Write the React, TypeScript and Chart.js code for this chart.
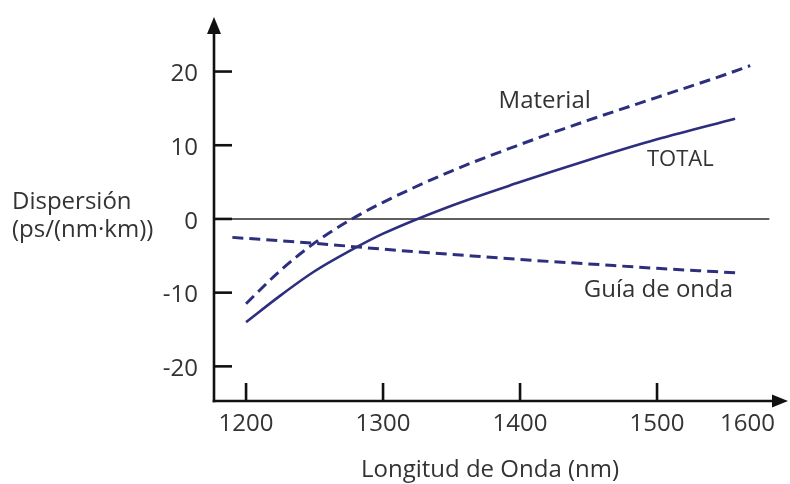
import React, { useEffect, useRef } from "react";
import { Chart, registerables } from "chart.js";

Chart.register(...registerables);

// Wavelength (nm) and dispersion (ps/(nm·km)) values
const materialX = [1200, 1225, 1250, 1275, 1300, 1350, 1400, 1450, 1500, 1550, 1568];
const materialY = [-11.5, -7.0, -3.25, -0.25, 2.25, 6.5, 10.1, 13.4, 16.5, 19.6, 20.8];

const totalX = [1200, 1225, 1250, 1275, 1300, 1350, 1400, 1450, 1500, 1557];
const totalY = [-14.0, -10.4, -7.1, -4.4, -2.0, 1.8, 5.0, 8.0, 10.8, 13.6];

const guiaX = [1190, 1250, 1300, 1350, 1400, 1450, 1500, 1557];
const guiaY = [-2.5, -3.3, -4.1, -4.8, -5.5, -6.1, -6.7, -7.3];

const xTickValues = [1200, 1300, 1400, 1500];
const xTickLabels = ["1200", "1300", "1400", "1500"];
const xExtraLabel = { value: 1566, text: "1600" };
const yTickValues = [20, 10, 0, -10, -20];
const yTickLabels = ["20", "10", "0", "-10", "-20"];

const seriesNames = ["Material", "TOTAL", "Guía de onda"];
const seriesLabelPos = [
  { x: 1418, y: 16.0 },
  { x: 1517, y: 8.1 },
  { x: 1501, y: -9.6 },
];

const xAxisTitle = "Longitud de Onda (nm)";
const yAxisTitle = ["Dispersión", "(ps/(nm·km))"];

const X_MIN = 1176.6;
const X_MAX = 1595.6;
const Y_MIN = -24.7;
const Y_MAX = 27.4;
const ZERO_LINE_END = 1582;

const LINE_COLOR = "#2d2f7e";
const TEXT_COLOR = "#333333";
const FONT = "24px 'Open Sans'";

const toPts = (xs: number[], ys: number[]) => xs.map((x, i) => ({ x, y: ys[i] }));

const decorPlugin = {
  id: "decor",
  beforeDatasetsDraw(chart: any) {
    const { ctx, scales } = chart;
    const xs = scales.x;
    const ys = scales.y;
    ctx.save();
    ctx.strokeStyle = "#2a2a2a";
    ctx.lineWidth = 1.6;
    ctx.beginPath();
    ctx.moveTo(xs.getPixelForValue(X_MIN), ys.getPixelForValue(0));
    ctx.lineTo(xs.getPixelForValue(ZERO_LINE_END), ys.getPixelForValue(0));
    ctx.stroke();
    ctx.restore();
  },
  afterDatasetsDraw(chart: any) {
    const { ctx, scales } = chart;
    const xs = scales.x;
    const ys = scales.y;
    const left = xs.getPixelForValue(X_MIN);
    const right = xs.getPixelForValue(X_MAX);
    const top = ys.getPixelForValue(Y_MAX);
    const bottom = ys.getPixelForValue(Y_MIN);
    ctx.save();
    ctx.strokeStyle = "#111111";
    ctx.fillStyle = "#111111";
    ctx.lineWidth = 2.6;
    ctx.lineCap = "butt";
    ctx.beginPath();
    ctx.moveTo(left, bottom + 1.3);
    ctx.lineTo(left, top + 12);
    ctx.stroke();
    ctx.beginPath();
    ctx.moveTo(left - 1.3, bottom);
    ctx.lineTo(right - 12, bottom);
    ctx.stroke();
    ctx.beginPath();
    ctx.moveTo(left, top);
    ctx.lineTo(left - 7, top + 17);
    ctx.lineTo(left + 7, top + 17);
    ctx.closePath();
    ctx.fill();
    ctx.beginPath();
    ctx.moveTo(right, bottom);
    ctx.lineTo(right - 16, bottom - 6.5);
    ctx.lineTo(right - 16, bottom + 6.5);
    ctx.closePath();
    ctx.fill();
    yTickValues.forEach((v) => {
      const py = ys.getPixelForValue(v);
      ctx.beginPath();
      ctx.moveTo(left, py);
      ctx.lineTo(left + 18, py);
      ctx.stroke();
    });
    xTickValues.forEach((v) => {
      const px = xs.getPixelForValue(v);
      ctx.beginPath();
      ctx.moveTo(px, bottom);
      ctx.lineTo(px, bottom - 18);
      ctx.stroke();
    });
    ctx.fillStyle = TEXT_COLOR;
    ctx.font = FONT;
    ctx.textAlign = "right";
    ctx.textBaseline = "middle";
    yTickValues.forEach((v, i) => {
      ctx.fillText(yTickLabels[i], left - 16, ys.getPixelForValue(v) + 3);
    });
    ctx.textAlign = "center";
    ctx.textBaseline = "alphabetic";
    xTickValues.forEach((v, i) => {
      ctx.fillText(xTickLabels[i], xs.getPixelForValue(v), bottom + 30);
    });
    ctx.fillText(xExtraLabel.text, xs.getPixelForValue(xExtraLabel.value), bottom + 30);
    ctx.fillText(xAxisTitle, 490, 477);
    ctx.textAlign = "left";
    ctx.fillText(yAxisTitle[0], 12, 209);
    ctx.fillText(yAxisTitle[1], 12, 237);
    ctx.textAlign = "center";
    ctx.textBaseline = "middle";
    seriesNames.forEach((name, i) => {
      ctx.font = i === 1 ? "22px 'Open Sans'" : FONT;
      ctx.fillText(name, xs.getPixelForValue(seriesLabelPos[i].x), ys.getPixelForValue(seriesLabelPos[i].y));
    });
    ctx.restore();
  },
};

export default function App() {
  const ref = useRef<HTMLCanvasElement | null>(null);
  useEffect(() => {
    if (!ref.current) return;
    const chart = new Chart(ref.current, {
      type: "line",
      data: {
        datasets: [
          {
            label: seriesNames[0],
            data: toPts(materialX, materialY),
            borderColor: LINE_COLOR,
            borderWidth: 3,
            borderDash: [11, 6],
            pointRadius: 0,
            cubicInterpolationMode: "monotone",
            fill: false,
          },
          {
            label: seriesNames[1],
            data: toPts(totalX, totalY),
            borderColor: LINE_COLOR,
            borderWidth: 2.6,
            pointRadius: 0,
            cubicInterpolationMode: "monotone",
            fill: false,
          },
          {
            label: seriesNames[2],
            data: toPts(guiaX, guiaY),
            borderColor: LINE_COLOR,
            borderWidth: 3,
            borderDash: [11, 6],
            pointRadius: 0,
            cubicInterpolationMode: "monotone",
            fill: false,
          },
        ],
      },
      options: {
        animation: false,
        responsive: false,
        maintainAspectRatio: false,
        layout: { padding: { left: 214, right: 2, top: 17, bottom: 83 } },
        plugins: {
          legend: { display: false },
          tooltip: { enabled: false },
        },
        scales: {
          x: { type: "linear", min: X_MIN, max: X_MAX, display: false },
          y: { type: "linear", min: Y_MIN, max: Y_MAX, display: false },
        },
      },
      plugins: [decorPlugin],
    });
    return () => chart.destroy();
  }, []);
  return (
    <div style={{ position: "absolute", left: 0, top: 0, width: 790, height: 484, background: "#ffffff" }}>
      <canvas ref={ref} width={790} height={484} style={{ width: 790, height: 484 }} />
    </div>
  );
}
